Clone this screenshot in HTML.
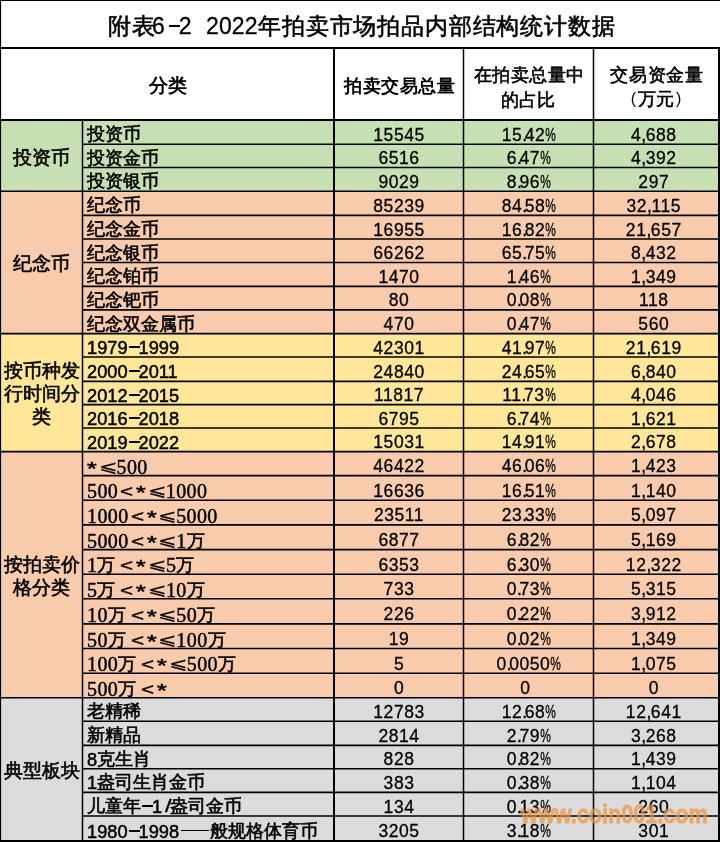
<!DOCTYPE html>
<html><head><meta charset="utf-8"><style>
html,body{margin:0;padding:0;background:#fff;}
body{width:720px;height:842px;position:relative;overflow:hidden;font-family:"Liberation Sans",sans-serif;color:#000}
.t{position:absolute;white-space:nowrap;will-change:transform}
.b{font-weight:bold}
.k{-webkit-text-stroke:0.6px #000}
.n{text-align:center;-webkit-text-stroke:.3px #000;letter-spacing:0.55px;text-indent:0.55px}
.pd{margin-right:-3px}
.cm{margin-right:-1px}
.pc{display:inline-block;transform:scaleX(.68);transform-origin:0 0;margin-right:-5px}
.sd{font-family:"Liberation Serif",serif;font-size:20px;letter-spacing:.4px;-webkit-text-stroke:.45px #000;position:relative;top:.7px}
.lt{display:inline-block;margin:0 3px 0 2px;font-size:17px;transform:scaleX(1.32);transform-origin:0 0;width:13px;-webkit-text-stroke:.4px #000}
.st{display:inline-block;font-size:20px;transform:scale(1.25,.95);transform-origin:0 0;width:11.5px;position:relative;top:2.5px;-webkit-text-stroke:.6px #000}
.le{display:inline-block;font-size:16px;transform:scaleX(1.38);transform-origin:0 0;width:18px;-webkit-text-stroke:.2px #000;position:relative;top:-1.5px}
.ds{display:inline-block;width:11px;height:1.8px;background:#000;vertical-align:5px;margin:0 -1px 0 1px}
.em{display:inline-block;width:28px;height:1.5px;background:#000;vertical-align:6px;margin:0 1px 0 2px}
.sl{display:inline-block;transform:scaleX(1.3);transform-origin:0 0;margin:0 0 0 3px;-webkit-text-stroke:.4px #000}
.dd{-webkit-text-stroke:.5px #000;position:relative;top:.8px}
.pr{display:inline-block;font-size:16px;-webkit-text-stroke:0;margin:0 2px;position:relative;top:-1px}
svg{position:absolute;left:0;top:0}
.wm{position:absolute;left:520.5px;top:798.5px;font-size:26px;font-weight:bold;color:#EC9442;-webkit-text-stroke:1px #EC9442;opacity:.7;transform-origin:0 0;transform:scaleX(0.832);line-height:30px}
</style></head><body>
<svg width="720" height="842" viewBox="0 0 720 842"><rect x="0" y="120.0" width="720" height="71.2" fill="#C6E0B4"/><rect x="0" y="191.2" width="720" height="142.4" fill="#F8CBAD"/><rect x="0" y="333.6" width="720" height="118.0" fill="#FFE699"/><rect x="0" y="451.6" width="720" height="246.1" fill="#F8CBAD"/><rect x="0" y="697.7" width="720" height="143.1" fill="#DBDBDB"/><line x1="0" y1="0.5" x2="720" y2="0.5" stroke="#000" stroke-width="1.2"/><line x1="0.5" y1="0" x2="0.5" y2="842" stroke="#000" stroke-width="1.2"/><line x1="0" y1="48" x2="720" y2="48" stroke="#000" stroke-width="1.8"/><line x1="0" y1="120" x2="720" y2="120" stroke="#000" stroke-width="1.8"/><line x1="82.5" y1="144.2" x2="720" y2="144.2" stroke="#000" stroke-width="1.6"/><line x1="82.5" y1="167.5" x2="720" y2="167.5" stroke="#000" stroke-width="1.6"/><line x1="0" y1="191.2" x2="720" y2="191.2" stroke="#000" stroke-width="1.6"/><line x1="82.5" y1="215.4" x2="720" y2="215.4" stroke="#000" stroke-width="1.6"/><line x1="82.5" y1="239.0" x2="720" y2="239.0" stroke="#000" stroke-width="1.6"/><line x1="82.5" y1="262.5" x2="720" y2="262.5" stroke="#000" stroke-width="1.6"/><line x1="82.5" y1="286.4" x2="720" y2="286.4" stroke="#000" stroke-width="1.6"/><line x1="82.5" y1="309.9" x2="720" y2="309.9" stroke="#000" stroke-width="1.6"/><line x1="0" y1="333.6" x2="720" y2="333.6" stroke="#000" stroke-width="1.6"/><line x1="82.5" y1="357.0" x2="720" y2="357.0" stroke="#000" stroke-width="1.6"/><line x1="82.5" y1="381.4" x2="720" y2="381.4" stroke="#000" stroke-width="1.6"/><line x1="82.5" y1="404.6" x2="720" y2="404.6" stroke="#000" stroke-width="1.6"/><line x1="82.5" y1="428.05" x2="720" y2="428.05" stroke="#000" stroke-width="1.6"/><line x1="0" y1="451.6" x2="720" y2="451.6" stroke="#000" stroke-width="1.6"/><line x1="82.5" y1="475.6" x2="720" y2="475.6" stroke="#000" stroke-width="1.6"/><line x1="82.5" y1="500.2" x2="720" y2="500.2" stroke="#000" stroke-width="1.6"/><line x1="82.5" y1="524.9" x2="720" y2="524.9" stroke="#000" stroke-width="1.6"/><line x1="82.5" y1="549.6" x2="720" y2="549.6" stroke="#000" stroke-width="1.6"/><line x1="82.5" y1="574.25" x2="720" y2="574.25" stroke="#000" stroke-width="1.6"/><line x1="82.5" y1="598.8" x2="720" y2="598.8" stroke="#000" stroke-width="1.6"/><line x1="82.5" y1="623.85" x2="720" y2="623.85" stroke="#000" stroke-width="1.6"/><line x1="82.5" y1="648.5" x2="720" y2="648.5" stroke="#000" stroke-width="1.6"/><line x1="82.5" y1="673.2" x2="720" y2="673.2" stroke="#000" stroke-width="1.6"/><line x1="0" y1="697.7" x2="720" y2="697.7" stroke="#000" stroke-width="1.6"/><line x1="82.5" y1="721.2" x2="720" y2="721.2" stroke="#000" stroke-width="1.6"/><line x1="82.5" y1="745.4" x2="720" y2="745.4" stroke="#000" stroke-width="1.6"/><line x1="82.5" y1="768.8" x2="720" y2="768.8" stroke="#000" stroke-width="1.6"/><line x1="82.5" y1="792.4" x2="720" y2="792.4" stroke="#000" stroke-width="1.6"/><line x1="82.5" y1="816.0" x2="720" y2="816.0" stroke="#000" stroke-width="1.6"/><line x1="0" y1="841" x2="720" y2="841" stroke="#000" stroke-width="2"/><line x1="719" y1="48" x2="719" y2="842" stroke="#000" stroke-width="2"/><line x1="82.5" y1="120" x2="82.5" y2="842" stroke="#000" stroke-width="1.5"/><line x1="334" y1="48" x2="334" y2="842" stroke="#000" stroke-width="2"/><line x1="463.5" y1="48" x2="463.5" y2="842" stroke="#000" stroke-width="1.5"/><line x1="593.5" y1="48" x2="593.5" y2="842" stroke="#000" stroke-width="1.5"/></svg>
<div class="t k" style="left:108px;top:9px;font-size:23.4px;line-height:34px;letter-spacing:.7px">附表</div>
<div class="t k" style="left:152px;top:9px;font-size:23px;line-height:34px;-webkit-text-stroke:.3px #000">6<span style="display:inline-block;width:11px;height:1.8px;background:#000;vertical-align:7px;margin:0 -1px 0 4px"></span>2</div>
<div class="t k" style="left:205.5px;top:9px;font-size:23px;line-height:34px;letter-spacing:.1px;-webkit-text-stroke:.3px #000">2022</div>
<div class="t k" style="left:257.5px;top:9px;font-size:23.4px;line-height:34px;letter-spacing:.85px">年拍卖市场拍品内部结构统计数据</div>
<div class="t b" style="left:1px;top:73px;width:334px;text-align:center;font-size:19px;line-height:26px">分类</div>
<div class="t b" style="left:334.5px;top:73px;width:129px;text-align:center;font-size:18.4px;line-height:26px;letter-spacing:.5px">拍卖交易总量</div>
<div class="t k" style="left:463.5px;top:62px;width:130px;text-align:center;font-size:18.4px;line-height:25px;letter-spacing:.5px">在拍卖总量中</div>
<div class="t k" style="left:463px;top:87px;width:130px;text-align:center;font-size:18.4px;line-height:25px;letter-spacing:.3px">的占比</div>
<div class="t k" style="left:593.5px;top:62px;width:126px;text-align:center;font-size:18.4px;line-height:25px;letter-spacing:.8px">交易资金量</div>
<div class="t k" style="left:593px;top:86px;width:126px;text-align:center;font-size:18.4px;line-height:25px"><span class="pr">(</span>万元<span class="pr">)</span></div>
<div class="t k" style="left:0;top:145.5px;width:83px;text-align:center;font-size:19px;line-height:23.2px">投资币</div>
<div class="t k" style="left:0;top:252.3px;width:83px;text-align:center;font-size:19px;line-height:23.2px">纪念币</div>
<div class="t k" style="left:0;top:359.3px;width:83px;text-align:center;font-size:19px;line-height:23.2px">按币种发<br>行时间分<br>类</div>
<div class="t k" style="left:0;top:553.0px;width:83px;text-align:center;font-size:19px;line-height:23.2px">按拍卖价<br>格分类</div>
<div class="t k" style="left:0;top:759.1px;width:83px;text-align:center;font-size:19px;line-height:23.2px">典型板块</div>
<div class="t k" style="left:86.5px;top:123.2px;font-size:18.2px;line-height:22px">投资币</div>
<div class="t n" style="left:334px;top:123.7px;width:129.5px;font-size:17.5px;line-height:22px">15545</div>
<div class="t n" style="left:463.5px;top:123.7px;width:130.0px;font-size:17.5px;line-height:22px">15<span class="pd">.</span>42<span class="pc">%</span></div>
<div class="t n" style="left:590.5px;top:123.7px;width:125.0px;font-size:17.5px;line-height:22px">4<span class="cm">,</span>688</div>
<div class="t k" style="left:86.5px;top:146.5px;font-size:18.2px;line-height:22px">投资金币</div>
<div class="t n" style="left:334px;top:147.0px;width:129.5px;font-size:17.5px;line-height:22px">6516</div>
<div class="t n" style="left:463.5px;top:147.0px;width:130.0px;font-size:17.5px;line-height:22px">6<span class="pd">.</span>47<span class="pc">%</span></div>
<div class="t n" style="left:590.5px;top:147.0px;width:125.0px;font-size:17.5px;line-height:22px">4<span class="cm">,</span>392</div>
<div class="t k" style="left:86.5px;top:170.2px;font-size:18.2px;line-height:22px">投资银币</div>
<div class="t n" style="left:334px;top:170.7px;width:129.5px;font-size:17.5px;line-height:22px">9029</div>
<div class="t n" style="left:463.5px;top:170.7px;width:130.0px;font-size:17.5px;line-height:22px">8<span class="pd">.</span>96<span class="pc">%</span></div>
<div class="t n" style="left:590.5px;top:170.7px;width:125.0px;font-size:17.5px;line-height:22px">297</div>
<div class="t k" style="left:86.5px;top:194.4px;font-size:18.2px;line-height:22px">纪念币</div>
<div class="t n" style="left:334px;top:194.9px;width:129.5px;font-size:17.5px;line-height:22px">85239</div>
<div class="t n" style="left:463.5px;top:194.9px;width:130.0px;font-size:17.5px;line-height:22px">84<span class="pd">.</span>58<span class="pc">%</span></div>
<div class="t n" style="left:590.5px;top:194.9px;width:125.0px;font-size:17.5px;line-height:22px">32<span class="cm">,</span>115</div>
<div class="t k" style="left:86.5px;top:218.0px;font-size:18.2px;line-height:22px">纪念金币</div>
<div class="t n" style="left:334px;top:218.5px;width:129.5px;font-size:17.5px;line-height:22px">16955</div>
<div class="t n" style="left:463.5px;top:218.5px;width:130.0px;font-size:17.5px;line-height:22px">16<span class="pd">.</span>82<span class="pc">%</span></div>
<div class="t n" style="left:590.5px;top:218.5px;width:125.0px;font-size:17.5px;line-height:22px">21<span class="cm">,</span>657</div>
<div class="t k" style="left:86.5px;top:241.5px;font-size:18.2px;line-height:22px">纪念银币</div>
<div class="t n" style="left:334px;top:242.0px;width:129.5px;font-size:17.5px;line-height:22px">66262</div>
<div class="t n" style="left:463.5px;top:242.0px;width:130.0px;font-size:17.5px;line-height:22px">65<span class="pd">.</span>75<span class="pc">%</span></div>
<div class="t n" style="left:590.5px;top:242.0px;width:125.0px;font-size:17.5px;line-height:22px">8<span class="cm">,</span>432</div>
<div class="t k" style="left:86.5px;top:265.4px;font-size:18.2px;line-height:22px">纪念铂币</div>
<div class="t n" style="left:334px;top:265.9px;width:129.5px;font-size:17.5px;line-height:22px">1470</div>
<div class="t n" style="left:463.5px;top:265.9px;width:130.0px;font-size:17.5px;line-height:22px">1<span class="pd">.</span>46<span class="pc">%</span></div>
<div class="t n" style="left:590.5px;top:265.9px;width:125.0px;font-size:17.5px;line-height:22px">1<span class="cm">,</span>349</div>
<div class="t k" style="left:86.5px;top:288.9px;font-size:18.2px;line-height:22px">纪念钯币</div>
<div class="t n" style="left:334px;top:289.4px;width:129.5px;font-size:17.5px;line-height:22px">80</div>
<div class="t n" style="left:463.5px;top:289.4px;width:130.0px;font-size:17.5px;line-height:22px">0<span class="pd">.</span>08<span class="pc">%</span></div>
<div class="t n" style="left:590.5px;top:289.4px;width:125.0px;font-size:17.5px;line-height:22px">118</div>
<div class="t k" style="left:86.5px;top:312.6px;font-size:18.2px;line-height:22px">纪念双金属币</div>
<div class="t n" style="left:334px;top:313.1px;width:129.5px;font-size:17.5px;line-height:22px">470</div>
<div class="t n" style="left:463.5px;top:313.1px;width:130.0px;font-size:17.5px;line-height:22px">0<span class="pd">.</span>47<span class="pc">%</span></div>
<div class="t n" style="left:590.5px;top:313.1px;width:125.0px;font-size:17.5px;line-height:22px">560</div>
<div class="t k" style="left:86.5px;top:336.0px;font-size:18.2px;line-height:22px"><span class="dd">1</span><span class="dd">9</span><span class="dd">7</span><span class="dd">9</span><span class="ds"></span><span class="dd">1</span><span class="dd">9</span><span class="dd">9</span><span class="dd">9</span></div>
<div class="t n" style="left:334px;top:336.5px;width:129.5px;font-size:17.5px;line-height:22px">42301</div>
<div class="t n" style="left:463.5px;top:336.5px;width:130.0px;font-size:17.5px;line-height:22px">41<span class="pd">.</span>97<span class="pc">%</span></div>
<div class="t n" style="left:590.5px;top:336.5px;width:125.0px;font-size:17.5px;line-height:22px">21<span class="cm">,</span>619</div>
<div class="t k" style="left:86.5px;top:360.4px;font-size:18.2px;line-height:22px"><span class="dd">2</span><span class="dd">0</span><span class="dd">0</span><span class="dd">0</span><span class="ds"></span><span class="dd">2</span><span class="dd">0</span><span class="dd">1</span><span class="dd">1</span></div>
<div class="t n" style="left:334px;top:360.9px;width:129.5px;font-size:17.5px;line-height:22px">24840</div>
<div class="t n" style="left:463.5px;top:360.9px;width:130.0px;font-size:17.5px;line-height:22px">24<span class="pd">.</span>65<span class="pc">%</span></div>
<div class="t n" style="left:590.5px;top:360.9px;width:125.0px;font-size:17.5px;line-height:22px">6<span class="cm">,</span>840</div>
<div class="t k" style="left:86.5px;top:383.6px;font-size:18.2px;line-height:22px"><span class="dd">2</span><span class="dd">0</span><span class="dd">1</span><span class="dd">2</span><span class="ds"></span><span class="dd">2</span><span class="dd">0</span><span class="dd">1</span><span class="dd">5</span></div>
<div class="t n" style="left:334px;top:384.1px;width:129.5px;font-size:17.5px;line-height:22px">11817</div>
<div class="t n" style="left:463.5px;top:384.1px;width:130.0px;font-size:17.5px;line-height:22px">11<span class="pd">.</span>73<span class="pc">%</span></div>
<div class="t n" style="left:590.5px;top:384.1px;width:125.0px;font-size:17.5px;line-height:22px">4<span class="cm">,</span>046</div>
<div class="t k" style="left:86.5px;top:407.1px;font-size:18.2px;line-height:22px"><span class="dd">2</span><span class="dd">0</span><span class="dd">1</span><span class="dd">6</span><span class="ds"></span><span class="dd">2</span><span class="dd">0</span><span class="dd">1</span><span class="dd">8</span></div>
<div class="t n" style="left:334px;top:407.6px;width:129.5px;font-size:17.5px;line-height:22px">6795</div>
<div class="t n" style="left:463.5px;top:407.6px;width:130.0px;font-size:17.5px;line-height:22px">6<span class="pd">.</span>74<span class="pc">%</span></div>
<div class="t n" style="left:590.5px;top:407.6px;width:125.0px;font-size:17.5px;line-height:22px">1<span class="cm">,</span>621</div>
<div class="t k" style="left:86.5px;top:430.6px;font-size:18.2px;line-height:22px"><span class="dd">2</span><span class="dd">0</span><span class="dd">1</span><span class="dd">9</span><span class="ds"></span><span class="dd">2</span><span class="dd">0</span><span class="dd">2</span><span class="dd">2</span></div>
<div class="t n" style="left:334px;top:431.1px;width:129.5px;font-size:17.5px;line-height:22px">15031</div>
<div class="t n" style="left:463.5px;top:431.1px;width:130.0px;font-size:17.5px;line-height:22px">14<span class="pd">.</span>91<span class="pc">%</span></div>
<div class="t n" style="left:590.5px;top:431.1px;width:125.0px;font-size:17.5px;line-height:22px">2<span class="cm">,</span>678</div>
<div class="t k" style="left:86.5px;top:454.6px;font-size:18.2px;line-height:22px"><span class="st">*</span><span class="le">⩽</span><span class="sd">5</span><span class="sd">0</span><span class="sd">0</span></div>
<div class="t n" style="left:334px;top:455.1px;width:129.5px;font-size:17.5px;line-height:22px">46422</div>
<div class="t n" style="left:463.5px;top:455.1px;width:130.0px;font-size:17.5px;line-height:22px">46<span class="pd">.</span>06<span class="pc">%</span></div>
<div class="t n" style="left:590.5px;top:455.1px;width:125.0px;font-size:17.5px;line-height:22px">1<span class="cm">,</span>423</div>
<div class="t k" style="left:86.5px;top:479.2px;font-size:18.2px;line-height:22px"><span class="sd">5</span><span class="sd">0</span><span class="sd">0</span><span class="lt" style="margin-left:2px">&lt;</span><span class="st">*</span><span class="le">⩽</span><span class="sd">1</span><span class="sd">0</span><span class="sd">0</span><span class="sd">0</span></div>
<div class="t n" style="left:334px;top:479.7px;width:129.5px;font-size:17.5px;line-height:22px">16636</div>
<div class="t n" style="left:463.5px;top:479.7px;width:130.0px;font-size:17.5px;line-height:22px">16<span class="pd">.</span>51<span class="pc">%</span></div>
<div class="t n" style="left:590.5px;top:479.7px;width:125.0px;font-size:17.5px;line-height:22px">1<span class="cm">,</span>140</div>
<div class="t k" style="left:86.5px;top:503.9px;font-size:18.2px;line-height:22px"><span class="sd">1</span><span class="sd">0</span><span class="sd">0</span><span class="sd">0</span><span class="lt" style="margin-left:2px">&lt;</span><span class="st">*</span><span class="le">⩽</span><span class="sd">5</span><span class="sd">0</span><span class="sd">0</span><span class="sd">0</span></div>
<div class="t n" style="left:334px;top:504.4px;width:129.5px;font-size:17.5px;line-height:22px">23511</div>
<div class="t n" style="left:463.5px;top:504.4px;width:130.0px;font-size:17.5px;line-height:22px">23<span class="pd">.</span>33<span class="pc">%</span></div>
<div class="t n" style="left:590.5px;top:504.4px;width:125.0px;font-size:17.5px;line-height:22px">5<span class="cm">,</span>097</div>
<div class="t k" style="left:86.5px;top:528.6px;font-size:18.2px;line-height:22px"><span class="sd">5</span><span class="sd">0</span><span class="sd">0</span><span class="sd">0</span><span class="lt" style="margin-left:2px">&lt;</span><span class="st">*</span><span class="le">⩽</span><span class="sd">1</span>万</div>
<div class="t n" style="left:334px;top:529.1px;width:129.5px;font-size:17.5px;line-height:22px">6877</div>
<div class="t n" style="left:463.5px;top:529.1px;width:130.0px;font-size:17.5px;line-height:22px">6<span class="pd">.</span>82<span class="pc">%</span></div>
<div class="t n" style="left:590.5px;top:529.1px;width:125.0px;font-size:17.5px;line-height:22px">5<span class="cm">,</span>169</div>
<div class="t k" style="left:86.5px;top:553.2px;font-size:18.2px;line-height:22px"><span class="sd">1</span>万<span class="lt" style="margin-left:5px">&lt;</span><span class="st">*</span><span class="le">⩽</span><span class="sd">5</span>万</div>
<div class="t n" style="left:334px;top:553.8px;width:129.5px;font-size:17.5px;line-height:22px">6353</div>
<div class="t n" style="left:463.5px;top:553.8px;width:130.0px;font-size:17.5px;line-height:22px">6<span class="pd">.</span>30<span class="pc">%</span></div>
<div class="t n" style="left:590.5px;top:553.8px;width:125.0px;font-size:17.5px;line-height:22px">12<span class="cm">,</span>322</div>
<div class="t k" style="left:86.5px;top:577.8px;font-size:18.2px;line-height:22px"><span class="sd">5</span>万<span class="lt" style="margin-left:5px">&lt;</span><span class="st">*</span><span class="le">⩽</span><span class="sd">1</span><span class="sd">0</span>万</div>
<div class="t n" style="left:334px;top:578.3px;width:129.5px;font-size:17.5px;line-height:22px">733</div>
<div class="t n" style="left:463.5px;top:578.3px;width:130.0px;font-size:17.5px;line-height:22px">0<span class="pd">.</span>73<span class="pc">%</span></div>
<div class="t n" style="left:590.5px;top:578.3px;width:125.0px;font-size:17.5px;line-height:22px">5<span class="cm">,</span>315</div>
<div class="t k" style="left:86.5px;top:602.9px;font-size:18.2px;line-height:22px"><span class="sd">1</span><span class="sd">0</span>万<span class="lt" style="margin-left:5px">&lt;</span><span class="st">*</span><span class="le">⩽</span><span class="sd">5</span><span class="sd">0</span>万</div>
<div class="t n" style="left:334px;top:603.4px;width:129.5px;font-size:17.5px;line-height:22px">226</div>
<div class="t n" style="left:463.5px;top:603.4px;width:130.0px;font-size:17.5px;line-height:22px">0<span class="pd">.</span>22<span class="pc">%</span></div>
<div class="t n" style="left:590.5px;top:603.4px;width:125.0px;font-size:17.5px;line-height:22px">3<span class="cm">,</span>912</div>
<div class="t k" style="left:86.5px;top:627.5px;font-size:18.2px;line-height:22px"><span class="sd">5</span><span class="sd">0</span>万<span class="lt" style="margin-left:5px">&lt;</span><span class="st">*</span><span class="le">⩽</span><span class="sd">1</span><span class="sd">0</span><span class="sd">0</span>万</div>
<div class="t n" style="left:334px;top:628.0px;width:129.5px;font-size:17.5px;line-height:22px">19</div>
<div class="t n" style="left:463.5px;top:628.0px;width:130.0px;font-size:17.5px;line-height:22px">0<span class="pd">.</span>02<span class="pc">%</span></div>
<div class="t n" style="left:590.5px;top:628.0px;width:125.0px;font-size:17.5px;line-height:22px">1<span class="cm">,</span>349</div>
<div class="t k" style="left:86.5px;top:652.2px;font-size:18.2px;line-height:22px"><span class="sd">1</span><span class="sd">0</span><span class="sd">0</span>万<span class="lt" style="margin-left:5px">&lt;</span><span class="st">*</span><span class="le">⩽</span><span class="sd">5</span><span class="sd">0</span><span class="sd">0</span>万</div>
<div class="t n" style="left:334px;top:652.7px;width:129.5px;font-size:17.5px;line-height:22px">5</div>
<div class="t n" style="left:463.5px;top:652.7px;width:130.0px;font-size:17.5px;line-height:22px">0<span class="pd">.</span>0050<span class="pc">%</span></div>
<div class="t n" style="left:590.5px;top:652.7px;width:125.0px;font-size:17.5px;line-height:22px">1<span class="cm">,</span>075</div>
<div class="t k" style="left:86.5px;top:676.7px;font-size:18.2px;line-height:22px"><span class="sd">5</span><span class="sd">0</span><span class="sd">0</span>万<span class="lt" style="margin-left:5px">&lt;</span><span class="st">*</span></div>
<div class="t n" style="left:334px;top:677.2px;width:129.5px;font-size:17.5px;line-height:22px">0</div>
<div class="t n" style="left:460.0px;top:677.2px;width:130.0px;font-size:17.5px;line-height:22px">0</div>
<div class="t n" style="left:590.5px;top:677.2px;width:125.0px;font-size:17.5px;line-height:22px">0</div>
<div class="t k" style="left:86.5px;top:700.2px;font-size:18.2px;line-height:22px">老精稀</div>
<div class="t n" style="left:334px;top:700.7px;width:129.5px;font-size:17.5px;line-height:22px">12783</div>
<div class="t n" style="left:463.5px;top:700.7px;width:130.0px;font-size:17.5px;line-height:22px">12<span class="pd">.</span>68<span class="pc">%</span></div>
<div class="t n" style="left:590.5px;top:700.7px;width:125.0px;font-size:17.5px;line-height:22px">12<span class="cm">,</span>641</div>
<div class="t k" style="left:86.5px;top:724.4px;font-size:18.2px;line-height:22px">新精品</div>
<div class="t n" style="left:334px;top:724.9px;width:129.5px;font-size:17.5px;line-height:22px">2814</div>
<div class="t n" style="left:463.5px;top:724.9px;width:130.0px;font-size:17.5px;line-height:22px">2<span class="pd">.</span>79<span class="pc">%</span></div>
<div class="t n" style="left:590.5px;top:724.9px;width:125.0px;font-size:17.5px;line-height:22px">3<span class="cm">,</span>268</div>
<div class="t k" style="left:86.5px;top:747.8px;font-size:18.2px;line-height:22px"><span class="dd">8</span>克生肖</div>
<div class="t n" style="left:334px;top:748.3px;width:129.5px;font-size:17.5px;line-height:22px">828</div>
<div class="t n" style="left:463.5px;top:748.3px;width:130.0px;font-size:17.5px;line-height:22px">0<span class="pd">.</span>82<span class="pc">%</span></div>
<div class="t n" style="left:590.5px;top:748.3px;width:125.0px;font-size:17.5px;line-height:22px">1<span class="cm">,</span>439</div>
<div class="t k" style="left:86.5px;top:771.4px;font-size:18.2px;line-height:22px"><span class="dd">1</span>盎司生肖金币</div>
<div class="t n" style="left:334px;top:771.9px;width:129.5px;font-size:17.5px;line-height:22px">383</div>
<div class="t n" style="left:463.5px;top:771.9px;width:130.0px;font-size:17.5px;line-height:22px">0<span class="pd">.</span>38<span class="pc">%</span></div>
<div class="t n" style="left:590.5px;top:771.9px;width:125.0px;font-size:17.5px;line-height:22px">1<span class="cm">,</span>104</div>
<div class="t k" style="left:86.5px;top:795.0px;font-size:18.2px;line-height:22px">儿童年<span class="ds"></span><span class="dd">1</span><span class="sl">/</span>盎司金币</div>
<div class="t n" style="left:334px;top:795.5px;width:129.5px;font-size:17.5px;line-height:22px">134</div>
<div class="t n" style="left:463.5px;top:795.5px;width:130.0px;font-size:17.5px;line-height:22px">0<span class="pd">.</span>13<span class="pc">%</span></div>
<div class="t n" style="left:590.5px;top:795.5px;width:125.0px;font-size:17.5px;line-height:22px">260</div>
<div class="t k" style="left:86.5px;top:819.8px;font-size:18.2px;line-height:22px"><span class="dd">1</span><span class="dd">9</span><span class="dd">8</span><span class="dd">0</span><span class="ds"></span><span class="dd">1</span><span class="dd">9</span><span class="dd">9</span><span class="dd">8</span><span class="em"></span>般规格体育币</div>
<div class="t n" style="left:334px;top:820.3px;width:129.5px;font-size:17.5px;line-height:22px">3205</div>
<div class="t n" style="left:463.5px;top:820.3px;width:130.0px;font-size:17.5px;line-height:22px">3<span class="pd">.</span>18<span class="pc">%</span></div>
<div class="t n" style="left:590.5px;top:820.3px;width:125.0px;font-size:17.5px;line-height:22px">301</div>
<div class="wm">www.coin001.com</div>
</body></html>
